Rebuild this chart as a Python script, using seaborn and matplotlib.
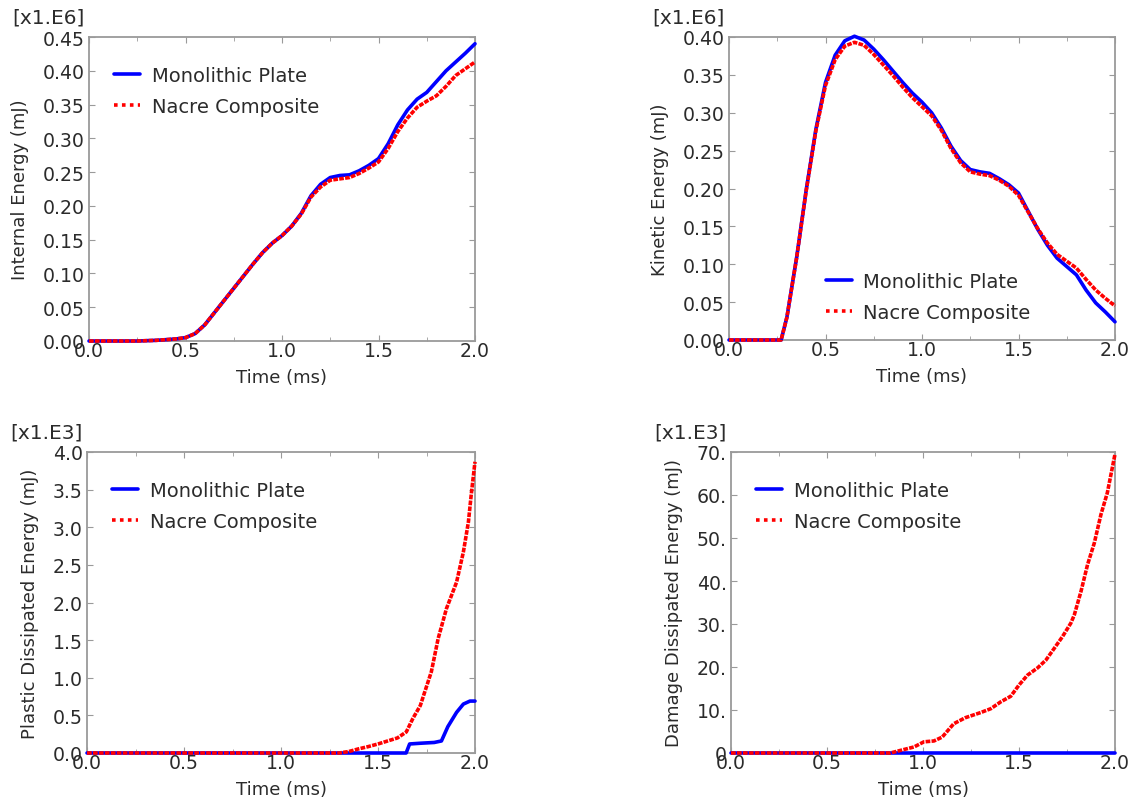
import numpy as np
import pandas as pd
import matplotlib
matplotlib.use('Agg')
import matplotlib.pyplot as plt
import seaborn as sns
from matplotlib.lines import Line2D
from matplotlib.ticker import MultipleLocator, FixedLocator


# Energias (valores na escala mostrada no eixo)
t_internal = [0.0, 0.05, 0.1, 0.15, 0.2, 0.25, 0.3, 0.35, 0.4, 0.45, 0.5, 0.55, 0.6, 0.65,
              0.7, 0.75, 0.8, 0.85, 0.9, 0.95, 1.0, 1.05, 1.1, 1.15, 1.2, 1.25, 1.3, 1.35,
              1.4, 1.45, 1.5, 1.55, 1.6, 1.65, 1.7, 1.75, 1.8, 1.85, 1.9, 1.95, 2.0]
internal_mono = [0, 0, 0, 0, 0, 0, 0.0005, 0.001, 0.002, 0.003, 0.005, 0.011, 0.024, 0.042,
                 0.06, 0.078, 0.096, 0.114, 0.131, 0.145, 0.156, 0.17, 0.189, 0.215, 0.232,
                 0.242, 0.245, 0.246, 0.252, 0.26, 0.27, 0.292, 0.32, 0.342, 0.358, 0.368,
                 0.384, 0.4, 0.413, 0.426, 0.44]
internal_nacre = [0, 0, 0, 0, 0, 0, 0.0005, 0.001, 0.002, 0.003, 0.005, 0.011, 0.024, 0.042,
                  0.06, 0.078, 0.096, 0.114, 0.131, 0.145, 0.156, 0.17, 0.188, 0.213, 0.228,
                  0.238, 0.24, 0.242, 0.248, 0.256, 0.265, 0.285, 0.31, 0.33, 0.346, 0.355,
                  0.363, 0.377, 0.393, 0.403, 0.413]

t_kinetic = [0.0, 0.27, 0.3, 0.35, 0.4, 0.45, 0.5, 0.55, 0.6, 0.65, 0.7, 0.75, 0.8, 0.85,
             0.9, 0.95, 1.0, 1.05, 1.1, 1.15, 1.2, 1.25, 1.3, 1.35, 1.4, 1.45, 1.5, 1.55,
             1.6, 1.65, 1.7, 1.75, 1.8, 1.85, 1.9, 1.95, 2.0]
kinetic_mono = [0, 0, 0.03, 0.108, 0.198, 0.278, 0.34, 0.376, 0.395, 0.401, 0.396, 0.384,
                0.37, 0.355, 0.34, 0.326, 0.314, 0.3, 0.28, 0.256, 0.237, 0.225, 0.222, 0.22,
                0.213, 0.205, 0.194, 0.17, 0.146, 0.125, 0.108, 0.097, 0.086, 0.066, 0.049,
                0.037, 0.024]
kinetic_nacre = [0, 0, 0.03, 0.108, 0.197, 0.276, 0.336, 0.37, 0.388, 0.393, 0.389, 0.377,
                 0.363, 0.349, 0.334, 0.32, 0.308, 0.296, 0.277, 0.253, 0.234, 0.222, 0.219,
                 0.217, 0.211, 0.203, 0.191, 0.169, 0.147, 0.128, 0.113, 0.104, 0.095, 0.08,
                 0.066, 0.055, 0.045]

t_plastic_mono = [0.0, 1.6, 1.645, 1.663, 1.72, 1.79, 1.827, 1.86, 1.905, 1.94, 1.974, 2.0]
plastic_mono = [0, 0, 0.0, 0.12, 0.13, 0.14, 0.16, 0.35, 0.54, 0.65, 0.69, 0.69]
t_plastic_nacre = [0.0, 1.3, 1.35, 1.4, 1.45, 1.5, 1.55, 1.6, 1.646, 1.68, 1.718, 1.775,
                   1.81, 1.853, 1.905, 1.94, 1.966, 1.98, 2.0]
plastic_nacre = [0, 0, 0.02, 0.055, 0.085, 0.12, 0.16, 0.2, 0.28, 0.46, 0.63, 1.08, 1.52,
                 1.92, 2.27, 2.67, 3.07, 3.42, 3.87]

t_damage_mono = [0.0, 2.0]
damage_mono = [0, 0]
t_damage_nacre = [0.0, 0.83, 0.9, 0.953, 1.005, 1.057, 1.1, 1.16, 1.22, 1.3, 1.353, 1.405,
                  1.457, 1.5, 1.544, 1.597, 1.64, 1.683, 1.727, 1.77, 1.788, 1.823, 1.857,
                  1.892, 1.927, 1.96, 2.0]
damage_nacre = [0, 0, 0.8, 1.4, 2.6, 2.8, 3.7, 6.8, 8.2, 9.4, 10.3, 11.9, 13.2, 15.8, 18.1,
                19.8, 21.6, 24.3, 27.1, 30.2, 32.1, 37.6, 43.8, 48.8, 55.5, 60.5, 69.5]

y_internal_ticks = [0.0, 0.05, 0.1, 0.15, 0.2, 0.25, 0.3, 0.35, 0.4, 0.45]
y_internal_labels = ['0.00', '0.05', '0.10', '0.15', '0.20', '0.25', '0.30', '0.35', '0.40', '0.45']
y_kinetic_ticks = [0.0, 0.05, 0.1, 0.15, 0.2, 0.25, 0.3, 0.35, 0.4]
y_kinetic_labels = ['0.00', '0.05', '0.10', '0.15', '0.20', '0.25', '0.30', '0.35', '0.40']
y_plastic_ticks = [0.0, 0.5, 1.0, 1.5, 2.0, 2.5, 3.0, 3.5, 4.0]
y_plastic_labels = ['0.0', '0.5', '1.0', '1.5', '2.0', '2.5', '3.0', '3.5', '4.0']
y_damage_ticks = [0, 10, 20, 30, 40, 50, 60, 70]
y_damage_labels = ['0', '10.', '20.', '30.', '40.', '50.', '60.', '70.']
x_ticks = [0.0, 0.5, 1.0, 1.5, 2.0]
x_labels = ['0.0', '0.5', '1.0', '1.5', '2.0']

labels = ['Monolithic Plate', 'Nacre Composite']


sns.set_style('ticks')
plt.rcParams['font.family'] = ['DejaVu Sans']

TXT = '#2b2b2b'
FRAME = '#9a9a9a'
NACRE_LS = (0, (1.3, 0.35))

fig = plt.figure(figsize=(11.31, 8.03), dpi=100)

# posições em pixels: esquerda, topo, direita, base
boxes = [(89, 38, 475, 342), (729, 38, 1115, 341), (87, 453, 475, 754), (731, 453, 1115, 754)]
axes = []
for l, t, r, b in boxes:
    axes.append(fig.add_axes([l / 1131, 1 - b / 803, (r - l) / 1131, (b - t) / 803]))

panels = [
    (t_internal, internal_mono, t_internal, internal_nacre, 'Internal Energy (mJ)',
     y_internal_ticks, y_internal_labels, 0.45, '[x1.E6]'),
    (t_kinetic, kinetic_mono, t_kinetic, kinetic_nacre, 'Kinetic Energy (mJ)',
     y_kinetic_ticks, y_kinetic_labels, 0.40, '[x1.E6]'),
    (t_plastic_mono, plastic_mono, t_plastic_nacre, plastic_nacre, 'Plastic Dissipated Energy (mJ)',
     y_plastic_ticks, y_plastic_labels, 4.0, '[x1.E3]'),
    (t_damage_mono, damage_mono, t_damage_nacre, damage_nacre, 'Damage Dissipated Energy (mJ)',
     y_damage_ticks, y_damage_labels, 70, '[x1.E3]'),
]

handles = [Line2D([], [], color='blue', lw=2.6),
           Line2D([], [], color='red', lw=2.6, linestyle=(0, (1, 1.2)))]

for i, (ax, p) in enumerate(zip(axes, panels)):
    tm, vm, tn, vn, ylab, yt, ytl, ymax, scale = p
    sns.lineplot(x=tm, y=vm, ax=ax, color='blue', linewidth=2.6, clip_on=False, zorder=3)
    sns.lineplot(x=tn, y=vn, ax=ax, color='red', linewidth=2.6, linestyle=NACRE_LS,
                 clip_on=False, zorder=4)
    ax.set_xlim(0, 2.0)
    ax.set_ylim(0, ymax)
    ax.xaxis.set_major_locator(FixedLocator(x_ticks))
    ax.set_xticklabels(x_labels)
    ax.xaxis.set_minor_locator(MultipleLocator(0.25))
    ax.yaxis.set_major_locator(FixedLocator(yt))
    ax.set_yticklabels(ytl)
    ax.tick_params(which='both', direction='in', top=True, right=True, color=FRAME,
                   labelsize=13.6, labelcolor=TXT)
    ax.tick_params(which='major', length=4)
    ax.tick_params(which='minor', length=3)
    ax.tick_params(axis='x', pad=0)
    ax.tick_params(axis='y', pad=3)
    for s in ax.spines.values():
        s.set_color(FRAME)
        s.set_linewidth(1.3)
    ax.set_xlabel('Time (ms)', fontsize=13, color=TXT, labelpad=6)
    ax.set_ylabel(ylab, fontsize=13, color=TXT, labelpad=10)
    ax.annotate(scale, xy=(0, 1), xycoords='axes fraction', xytext=(-4, 20),
                textcoords='offset pixels', ha='right', va='center', fontsize=14.5, color=TXT)

    if i == 1:
        leg = ax.legend(handles, labels, loc='lower left', bbox_to_anchor=(0.23, 0.035),
                        frameon=False, fontsize=14, handlelength=1.35, handletextpad=0.6,
                        labelspacing=0.6, borderaxespad=0)
    else:
        leg = ax.legend(handles, labels, loc='upper left', bbox_to_anchor=(0.045, 0.93),
                        frameon=False, fontsize=14, handlelength=1.35, handletextpad=0.6,
                        labelspacing=0.6, borderaxespad=0)
    for txt in leg.get_texts():
        txt.set_color(TXT)

plt.savefig('out.png', dpi=100)
